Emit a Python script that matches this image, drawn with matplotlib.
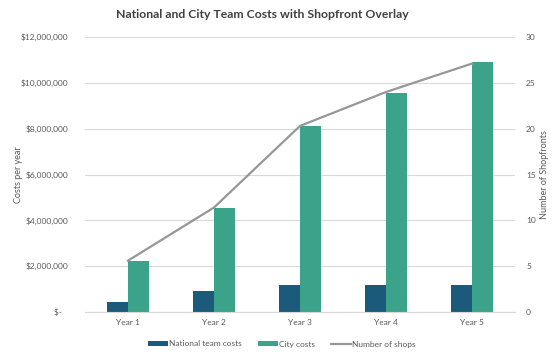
import matplotlib
matplotlib.use("Agg")
import matplotlib.pyplot as plt
from matplotlib.ticker import FuncFormatter
import numpy as np

years = ["Year 1", "Year 2", "Year 3", "Year 4", "Year 5"]
national_costs = [440000, 910000, 1170000, 1170000, 1170000]
city_costs = [2220000, 4520000, 8130000, 9570000, 10910000]
shops = [5.6, 11.4, 20.3, 24.0, 27.1]

plt.rcParams['font.family'] = ['Lato', 'DejaVu Sans']

fig = plt.figure(figsize=(5.57, 3.59), dpi=100)
ax = fig.add_axes([85/557, 1-312/359, 430/557, 275/359])
ax2 = ax.twinx()

x = np.arange(len(years))
w = 0.245
c_nat = '#1c5a7c'
c_city = '#3aa38a'
c_line = '#979797'
txt = '#595959'

ax.set_axisbelow(True)
ax.yaxis.grid(True, color='#d9d9d9', linewidth=0.8)
b1 = ax.bar(x - w/2, national_costs, w, color=c_nat, label='National team costs', zorder=2)
b2 = ax.bar(x + w/2, city_costs, w, color=c_city, label='City costs', zorder=2)
l1, = ax2.plot(x, shops, color=c_line, linewidth=1.6, label='Number of shops')

ax.set_xlim(-0.5, 4.5)
ax.set_ylim(0, 12000000)
ax.set_yticks(np.arange(0, 12000001, 2000000))
ax.yaxis.set_major_formatter(FuncFormatter(lambda v, p: "$-   " if v == 0 else f"${v:,.0f}"))
ax2.set_ylim(0, 30)
ax2.set_yticks(np.arange(0, 31, 5))

ax.set_xticks(x)
ax.set_xticklabels(years)

for a in (ax, ax2):
    for s in a.spines.values():
        s.set_visible(False)
    a.tick_params(length=0, labelsize=6, colors=txt)
ax.spines['bottom'].set_visible(True)
ax.spines['bottom'].set_color('#d9d9d9')
ax.tick_params(axis='y', pad=12)
ax.tick_params(axis='x', pad=5)
ax2.tick_params(axis='y', pad=8)

ax.set_ylabel('Costs per year', fontsize=6.5, color=txt)
ax.yaxis.set_label_coords((23-85)/430, 0.5)
ax2.set_ylabel('Number of Shopfronts', fontsize=6.5, color=txt)
ax2.yaxis.set_label_coords((540-85)/430, 0.5)

fig.suptitle('National and City Team Costs with Shopfront Overlay', x=262/557, y=0.975,
             fontsize=8.8, fontweight='bold', color='#404040')

fig.legend(handles=[b1, b2, l1], loc='center', bbox_to_anchor=(282/557, 1-344/359),
           ncol=3, frameon=False, fontsize=6, labelcolor=txt,
           handlelength=2.4, handleheight=0.6, columnspacing=1.9, handletextpad=0.15)

fig.savefig('out.png', dpi=100)
